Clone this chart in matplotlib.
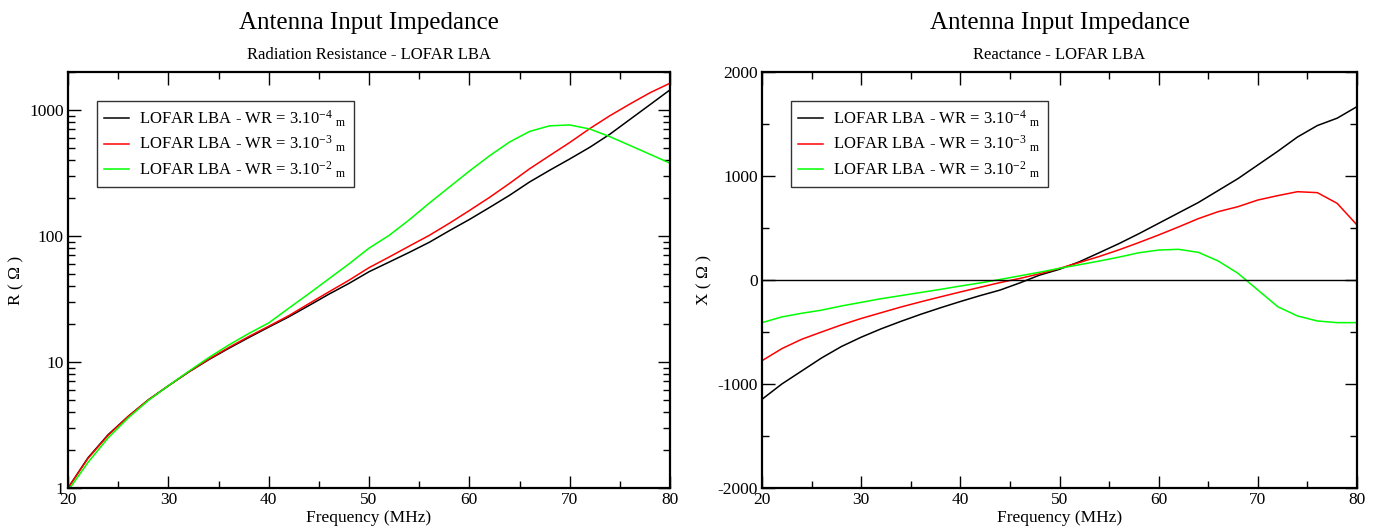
import matplotlib
matplotlib.use("Agg")
import matplotlib.pyplot as plt
from matplotlib.ticker import FixedLocator, LogLocator, NullFormatter, FuncFormatter, MultipleLocator

plt.rcParams['font.family'] = ['Liberation Serif', 'DejaVu Serif']
plt.rcParams['mathtext.fontset'] = 'custom'
plt.rcParams['mathtext.rm'] = 'Liberation Serif'
plt.rcParams['mathtext.it'] = 'Liberation Serif:italic'
plt.rcParams['axes.unicode_minus'] = False

freq = [20, 22, 24, 26, 28, 30, 32, 34, 36, 38, 40, 42, 44, 46, 48, 50,
        52, 54, 56, 58, 60, 62, 64, 66, 68, 70, 72, 74, 76, 78, 80]

r_wr4 = [1.0, 1.74, 2.65, 3.7, 5.0, 6.47, 8.3, 10.4, 12.8, 15.6, 18.9, 22.8, 28.0, 34.5, 42.0, 52.0,
         62.0, 74.0, 89.0, 110.0, 135.0, 168.0, 210.0, 268.0, 332.0, 408.0, 505.0, 641.0, 840.0, 1100.0, 1443.0]
r_wr3 = [1.0, 1.72, 2.62, 3.7, 5.0, 6.47, 8.3, 10.5, 13.0, 15.9, 19.2, 23.3, 29.0, 36.0, 44.5, 56.0,
         68.0, 83.0, 101.0, 126.0, 159.0, 202.0, 261.0, 341.0, 434.0, 551.0, 711.0, 899.0, 1114.0, 1368.0, 1630.0]
r_wr2 = [0.95, 1.6, 2.5, 3.6, 4.95, 6.47, 8.4, 10.8, 13.6, 16.8, 20.4, 26.7, 34.8, 45.7, 60.0, 80.0,
         101.0, 134.0, 182.0, 244.0, 327.0, 432.0, 556.0, 675.0, 748.0, 760.0, 706.0, 614.0, 523.0, 445.0, 378.0]

x_wr4 = [-1147, -1000, -875, -750, -640, -550, -470, -398, -330, -267, -207, -150, -97, -28, 47, 103,
         175, 262, 350, 445, 545, 645, 745, 860, 975, 1106, 1237, 1375, 1485, 1556, 1667]
x_wr3 = [-776, -660, -570, -500, -432, -370, -315, -260, -210, -162, -115, -70, -25, 15, 60, 112,
         168, 226, 290, 360, 433, 510, 590, 657, 705, 769, 811, 849, 840, 737, 529]
x_wr2 = [-410, -355, -320, -290, -250, -215, -180, -150, -120, -90, -58, -28, 5, 40, 75, 112,
         147, 182, 220, 262, 288, 295, 266, 183, 64, -96, -256, -346, -394, -410, -410]

labels = [r"LOFAR LBA - WR = 3.10$^{-4}$ $_{\mathrm{m}}$",
          r"LOFAR LBA - WR = 3.10$^{-3}$ $_{\mathrm{m}}$",
          r"LOFAR LBA - WR = 3.10$^{-2}$ $_{\mathrm{m}}$"]
colors = ["#000000", "#ff0000", "#00ff00"]

W, H = 1376, 530
fig = plt.figure(figsize=(W / 100, H / 100), dpi=100)

def px_axes(x0, x1, y0, y1):
    return fig.add_axes([x0 / W, 1 - y1 / H, (x1 - x0) / W, (y1 - y0) / H])

ax1 = px_axes(68, 670, 72, 488)
ax2 = px_axes(762, 1357, 72, 488)

def style(ax):
    for s in ax.spines.values():
        s.set_linewidth(1.6)
    ax.tick_params(which='both', direction='in', top=True, right=True, labelsize=12.5, width=1.0)
    ax.tick_params(which='major', length=9, pad=3)
    ax.tick_params(which='minor', length=5)
    ax.xaxis.set_major_locator(MultipleLocator(10))
    ax.xaxis.set_minor_locator(MultipleLocator(5))
    ax.set_xlim(20, 80)
    ax.set_xlabel("Frequency (MHz)", fontsize=12.5, labelpad=1)

# Left: resistance
for y, c, lab in zip([r_wr4, r_wr3, r_wr2], colors, labels):
    ax1.plot(freq, y, color=c, lw=1.1, label=lab)
ax1.set_yscale('log')
ax1.set_ylim(1, 2000)
ax1.yaxis.set_major_locator(FixedLocator([1, 10, 100, 1000]))
ax1.yaxis.set_minor_locator(LogLocator(base=10, subs=range(2, 10)))
ax1.yaxis.set_minor_formatter(NullFormatter())
ax1.yaxis.set_major_formatter(FuncFormatter(lambda v, p: "%d" % v))
style(ax1)
ax1.set_ylabel("R ( Ω )", fontsize=12.5)
ax1.yaxis.set_label_coords(-0.072, 0.5)

# Right: reactance
for y, c, lab in zip([x_wr4, x_wr3, x_wr2], colors, labels):
    ax2.plot(freq, y, color=c, lw=1.1, label=lab)
ax2.axhline(0, color='black', lw=1.0)
ax2.set_ylim(-2000, 2000)
ax2.yaxis.set_major_locator(MultipleLocator(1000))
ax2.yaxis.set_minor_locator(MultipleLocator(500))
style(ax2)
ax2.set_ylabel("X ( Ω )", fontsize=12.5)
ax2.yaxis.set_label_coords(-0.083, 0.5)

for ax in (ax1, ax2):
    leg = ax.legend(loc='upper left', bbox_to_anchor=(0.048, 0.93), fontsize=12,
                    frameon=True, fancybox=False, edgecolor='#333333', framealpha=1,
                    handlelength=1.5, handletextpad=0.6, borderpad=0.45, labelspacing=0.3,
                    borderaxespad=0)
    leg.get_frame().set_linewidth(1.0)

for ax, sub in ((ax1, "Radiation Resistance - LOFAR LBA"), (ax2, "Reactance - LOFAR LBA")):
    bb = ax.get_position()
    cx = (bb.x0 + bb.x1) / 2
    fig.text(cx, 1 - 23 / H, "Antenna Input Impedance", ha='center', va='center', fontsize=18)
    fig.text(cx, 1 - 55 / H, sub, ha='center', va='center', fontsize=12)

fig.savefig("out.png", dpi=100)
